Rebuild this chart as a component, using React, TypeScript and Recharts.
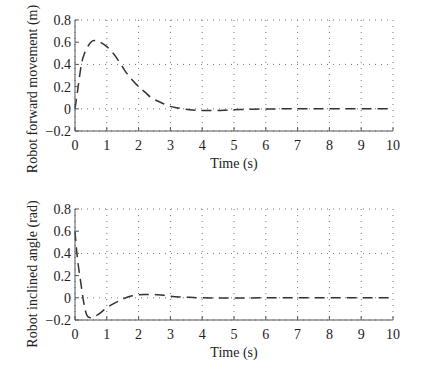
import React from "react";
import { LineChart, Line, XAxis, YAxis, CartesianGrid } from "recharts";

const timeTicks = [0, 1, 2, 3, 4, 5, 6, 7, 8, 9, 10];
const valueTicks = [-0.2, 0, 0.2, 0.4, 0.6, 0.8];

const forwardTime = [
  0, 0.05, 0.1, 0.2, 0.3, 0.4, 0.5, 0.6, 0.7, 0.8, 1.0, 1.2, 1.4, 1.6, 1.8,
  2.0, 2.2, 2.4, 2.6, 2.8, 3.0, 3.2, 3.4, 3.6, 3.8, 4.0, 4.4, 4.8, 5.2, 5.6, 6,
  7, 8, 9, 10,
];
const forwardValues = [
  0, 0.1, 0.2, 0.4, 0.5, 0.56, 0.6, 0.615, 0.615, 0.6, 0.56, 0.5, 0.42, 0.33,
  0.26, 0.2, 0.15, 0.1, 0.07, 0.043, 0.022, 0.01, 0.0, -0.008, -0.013, -0.015,
  -0.016, -0.012, -0.007, -0.004, -0.002, 0, 0, 0, 0,
];

const angleTime = [
  0, 0.05, 0.1, 0.15, 0.2, 0.25, 0.3, 0.35, 0.4, 0.5, 0.6, 0.7, 0.8, 1.0, 1.2,
  1.4, 1.6, 1.8, 2.0, 2.2, 2.4, 2.6, 2.8, 3.0, 3.3, 3.6, 4.0, 4.5, 5, 6, 7, 8,
  9, 10,
];
const angleValues = [
  0.6, 0.43, 0.3, 0.2, 0.1, 0.0, -0.08, -0.14, -0.17, -0.18, -0.175, -0.155,
  -0.135, -0.09, -0.055, -0.025, 0.0, 0.018, 0.027, 0.03, 0.03, 0.027, 0.022,
  0.015, 0.008, 0.004, 0.0, -0.002, -0.002, 0, 0, 0, 0, 0,
];

const forwardData = forwardTime.map((t, i) => ({ t, v: forwardValues[i] }));
const angleData = angleTime.map((t, i) => ({ t, v: angleValues[i] }));

const font = "Liberation Serif";
const frame = "#555";
const tickStyle = { fontFamily: font, fontSize: 14, fill: "#222" };
const fmt = (v: number) => String(v).replace("-", "\u2212");

interface PanelProps {
  data: { t: number; v: number }[];
  yLabel: string;
  top: number;
  bottom: number;
}

const Panel: React.FC<PanelProps> = ({ data, yLabel, top, bottom }) => {
  const plotBottom = 185 - bottom - 40;
  return (
    <LineChart
      width={430}
      height={185}
      data={data}
      margin={{ top, right: 37, left: 0, bottom }}
      style={{ fontFamily: font }}
    >
      <CartesianGrid stroke="#777" strokeDasharray="1 5" />
      <XAxis
        dataKey="t"
        type="number"
        domain={[0, 10]}
        ticks={timeTicks}
        height={40}
        stroke={frame}
        tick={tickStyle}
        tickSize={-4}
        tickMargin={13}
        label={{
          content: () => (
            <text
              x={234}
              y={plotBottom + 32}
              textAnchor="middle"
              dominantBaseline="central"
              fontFamily={font}
              fontSize={14}
              fill="#222"
            >
              Time (s)
            </text>
          ),
        }}
      />
      <XAxis
        xAxisId="top"
        orientation="top"
        dataKey="t"
        type="number"
        domain={[0, 10]}
        ticks={timeTicks}
        height={0}
        stroke={frame}
        tickSize={-4}
        tickFormatter={() => ""}
        allowDataOverflow
      />
      <YAxis
        type="number"
        domain={[-0.2, 0.8]}
        ticks={valueTicks}
        width={75}
        stroke={frame}
        tick={tickStyle}
        tickSize={-4}
        tickMargin={8}
        tickFormatter={fmt}
        allowDataOverflow
        label={{
          content: () => (
            <text
              x={32}
              y={89}
              transform="rotate(-90 32 89)"
              textAnchor="middle"
              dominantBaseline="central"
              fontFamily={font}
              fontSize={14}
              fill="#222"
            >
              {yLabel}
            </text>
          ),
        }}
      />
      <YAxis
        yAxisId="right"
        orientation="right"
        type="number"
        domain={[-0.2, 0.8]}
        ticks={valueTicks}
        width={0}
        stroke={frame}
        tickSize={-4}
        tickFormatter={() => ""}
        allowDataOverflow
      />
      <Line
        type="monotone"
        dataKey="v"
        stroke="#333"
        strokeWidth={1.5}
        strokeDasharray="10 6"
        dot={false}
        isAnimationActive={false}
      />
    </LineChart>
  );
};

const App: React.FC = () => {
  return (
    <div
      style={{
        position: "absolute",
        left: 0,
        top: 0,
        width: 430,
        height: 370,
        background: "#fff",
      }}
    >
      <Panel
        data={forwardData}
        yLabel="Robot forward movement (m)"
        top={20}
        bottom={14}
      />
      <Panel
        data={angleData}
        yLabel="Robot inclined angle (rad)"
        top={24}
        bottom={10}
      />
    </div>
  );
};

export default App;
